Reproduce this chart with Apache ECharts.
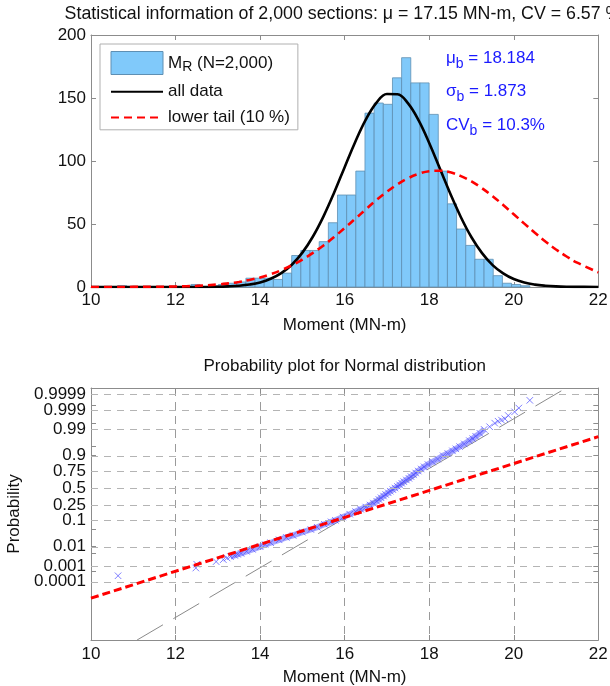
<!DOCTYPE html>
<html><head><meta charset="utf-8">
<script src="https://cdn.jsdelivr.net/npm/echarts@6/dist/echarts.min.js"></script>
<style>html,body{margin:0;padding:0;background:#fff}#c{width:610px;height:686px}</style>
</head><body><div id="c"></div>
<script>
// ---------------- data ----------------
const binStart = 10.63;
const binWidth = 0.2167;
const binCounts = [1,0,0,0,0,0,0,0,2,0,1,2,3,4,7,7,7,6,11,25,29,29,36,51,73,73,92,138,146,145,166,182,162,162,137,92,66,46,33,22,22,9,3,2,1];

const curveX = [10,10.5,11,11.5,12,12.5,13,13.25,13.5,13.75,14,14.25,14.5,14.75,15,15.25,15.5,15.75,16,16.25,16.5,16.75,17,17.25,17.5,17.75,18,18.25,18.5,18.75,19,19.25,19.5,19.75,20,20.25,20.5,20.75,21,21.25,21.5,22];
const allDataCurve = [0,0,0,0,0,0.02,0.22,0.5,1.0,1.95,3.6,6.5,11,17.7,27.3,40.1,56.1,74.8,95.1,115.1,132.8,146.1,153.2,153.0,145.7,132.2,114.3,94.2,74.0,55.4,39.5,26.9,17.4,10.8,6.3,3.5,1.9,1.0,0.47,0.2,0.1,0];
const lowerTailCurve = [0.01,0.02,0.06,0.16,0.4,0.92,2.0,2.9,4.0,5.6,7.6,10.2,13.3,17.2,21.8,27.1,33.0,39.6,46.8,54.1,61.6,68.9,75.6,81.5,86.3,89.8,91.9,92.3,91.0,88.0,83.9,78.4,72.1,65.1,57.7,50.3,43.0,36.1,29.8,24.2,19.3,11.6];

// probability plot samples (moment, probability)
const sampleMoment = [10.64,12.48,12.50,12.96,13.13,13.22,13.30,13.40,13.47,13.55,13.68,13.82,14.0,14.12,14.25,14.45,14.62,14.78,15.0,15.2,15.35,15.52,15.68,15.78,15.96,16.12,16.26,16.38,16.5,16.6,16.68,16.76,16.81,16.86,16.92,16.97,17.03,17.08,17.14,17.19,17.25,17.3,17.35,17.4,17.46,17.52,17.57,17.63,17.68,17.74,17.81,17.88,17.97,18.08,18.2,18.33,18.44,18.55,18.63,18.72,18.83,18.95,19.03,19.1,19.2,19.3,19.43,19.55,19.63,19.71,19.79,19.87,20.02,20.12,20.38];
const sampleProb = [0.00025,0.00075,0.00125,0.00175,0.00225,0.00275,0.00325,0.00375,0.00425,0.00475,0.006,0.0075,0.01,0.0125,0.015,0.02,0.025,0.03,0.04,0.05,0.06,0.075,0.09,0.1,0.125,0.15,0.175,0.2,0.225,0.25,0.275,0.3,0.325,0.35,0.375,0.4,0.425,0.45,0.475,0.5,0.525,0.55,0.575,0.6,0.625,0.65,0.675,0.7,0.725,0.75,0.775,0.8,0.825,0.85,0.875,0.9,0.915,0.93,0.94,0.95,0.96,0.97,0.975,0.98,0.985,0.99,0.9925,0.995,0.996,0.9965,0.997,0.998,0.99875,0.99925,0.99975];
const tailLineMoment = [10, 22];
const tailLineProb = [0.0000062, 0.9793];
const refLineMoment = [11.09, 21.24];
const refLineScore = [-6.03, 3.97];

const probLabels = [0.0001,0.001,0.01,0.1,0.25,0.5,0.75,0.9,0.99,0.999,0.9999];
const probMarks = [0.0001,0.0005,0.001,0.005,0.01,0.05,0.1,0.25,0.5,0.75,0.9,0.95,0.99,0.995,0.999,0.9995,0.9999];

// ---------------- helpers ----------------
function norminv(p){
  const a=[-3.969683028665376e+01,2.209460984245205e+02,-2.759285104469687e+02,1.383577518672690e+02,-3.066479806614716e+01,2.506628277459239e+00];
  const b=[-5.447609879822406e+01,1.615858368580409e+02,-1.556989798598866e+02,6.680131188771972e+01,-1.328068155288572e+01];
  const c=[-7.784894002430293e-03,-3.223964580411365e-01,-2.400758277161838e+00,-2.549732539343734e+00,4.374664141464968e+00,2.938163982698783e+00];
  const d=[7.784695709041462e-03,3.224671290700398e-01,2.445134137142996e+00,3.754408661907416e+00];
  const pl=0.02425, ph=1-pl; let q,r;
  if(p<pl){q=Math.sqrt(-2*Math.log(p));return (((((c[0]*q+c[1])*q+c[2])*q+c[3])*q+c[4])*q+c[5])/((((d[0]*q+d[1])*q+d[2])*q+d[3])*q+1);}
  if(p<=ph){q=p-0.5;r=q*q;return (((((a[0]*r+a[1])*r+a[2])*r+a[3])*r+a[4])*r+a[5])*q/(((((b[0]*r+b[1])*r+b[2])*r+b[3])*r+b[4])*r+1);}
  q=Math.sqrt(-2*Math.log(1-p));return -(((((c[0]*q+c[1])*q+c[2])*q+c[3])*q+c[4])*q+c[5])/((((d[0]*q+d[1])*q+d[2])*q+d[3])*q+1);
}

const FONT = '"Liberation Sans", Arial, Helvetica, sans-serif';
const AX = '#8c8c8c';
const BLUE_TXT = '#1a1aff';
const histData = binCounts.map((n,i)=>[binStart+i*binWidth, binStart+(i+1)*binWidth, n]).filter(d=>d[2]>0);
const zMin = -6.03, zMax = 3.97;
// labels are split over two overlaid axes so that close neighbours are never auto-hidden
const probLabelsA = probLabels.filter((p,i)=>i%2===0);
const probLabelsB = probLabels.filter((p,i)=>i%2===1);
const probFmt = (v)=>{ const p = probLabels.find(q=>Math.abs(norminv(q)-v)<1e-4); return p===undefined?'':String(p); };

const chart = echarts.init(document.getElementById('c'), null, {renderer:'canvas'});
const frameAxis = (extra) => Object.assign({
  axisLine:{show:true, onZero:false, lineStyle:{color:AX, width:1}},
  axisTick:{show:true, inside:true, length:5, lineStyle:{color:AX}},
  splitLine:{show:false},
  axisLabel:{show:false}
}, extra);
const annRich = {a:{fontSize:17, fontFamily:FONT, fill:BLUE_TXT, lineHeight:26}, s:{fontSize:14, fontFamily:FONT, fill:BLUE_TXT, lineHeight:14, verticalAlign:'bottom'}};
const probLabelStyle = (vals)=>({show:true, fontSize:17, color:'#111', margin:5, fontFamily:FONT,
  showMinLabel:true, showMaxLabel:true, hideOverlap:false,
  customValues: vals.map(norminv), formatter: probFmt});

const option = {
  animation:false,
  textStyle:{fontFamily:FONT},
  grid:[
    {left:91, right:11.7, top:35, height:252, outerBoundsMode:'none', containLabel:false},
    {left:91, right:11.7, top:388, height:252, outerBoundsMode:'none', containLabel:false}
  ],
  xAxis:[
    frameAxis({type:'value', gridIndex:0, min:10, max:22, interval:2, position:'bottom',
      axisLabel:{show:true, fontSize:17, color:'#111', margin:5, fontFamily:FONT},
      name:'Moment (MN-m)', nameLocation:'middle', nameGap:30,
      nameTextStyle:{fontSize:17, color:'#111', fontFamily:FONT}}),
    frameAxis({type:'value', gridIndex:0, min:10, max:22, interval:2, position:'top'}),
    frameAxis({type:'value', gridIndex:1, min:10, max:22, interval:2, position:'bottom',
      axisLabel:{show:true, fontSize:17, color:'#111', margin:6, fontFamily:FONT},
      splitLine:{show:true, lineStyle:{color:'#9a9a9a', type:[8,6], width:1}},
      name:'Moment (MN-m)', nameLocation:'middle', nameGap:29,
      nameTextStyle:{fontSize:17, color:'#111', fontFamily:FONT}}),
    frameAxis({type:'value', gridIndex:1, min:10, max:22, interval:2, position:'top'})
  ],
  yAxis:[
    frameAxis({type:'value', gridIndex:0, min:0, max:200, interval:50, position:'left',
      axisLabel:{show:true, fontSize:17, color:'#111', margin:5, fontFamily:FONT}}),
    frameAxis({type:'value', gridIndex:0, min:0, max:200, interval:50, position:'right'}),
    frameAxis({type:'value', gridIndex:1, min:zMin, max:zMax, position:'left',
      axisTick:{show:true, inside:true, length:5, lineStyle:{color:AX}, customValues: probMarks.map(norminv)},
      axisLabel: probLabelStyle(probLabelsA),
      name:'Probability', nameLocation:'middle', nameGap:66,
      nameTextStyle:{fontSize:17, color:'#111', fontFamily:FONT}}),
    frameAxis({type:'value', gridIndex:1, min:zMin, max:zMax, position:'right',
      axisTick:{show:true, inside:true, length:5, lineStyle:{color:AX}, customValues: probMarks.map(norminv)}}),
    {type:'value', gridIndex:1, min:zMin, max:zMax, position:'left', offset:0,
      axisLine:{show:false, onZero:false}, axisTick:{show:false}, splitLine:{show:false},
      axisLabel: probLabelStyle(probLabelsB)}
  ],
  legend:{
    orient:'vertical', left:100, top:44, padding:[7,8,3,10], itemGap:7.5,
    itemWidth:52, itemHeight:23, borderColor:'#b0b0b0', borderWidth:1, backgroundColor:'#fff',
    selectedMode:false,
    data:[
      {name:'MR', icon:'rect', itemStyle:{color:'#80c9fa', borderColor:'#5e8fb3', borderWidth:1}},
      {name:'all data', itemStyle:{opacity:0}},
      {name:'lower tail (10 %)', itemStyle:{opacity:0}}
    ],
    formatter:(name)=> name==='MR' ? '{m|M}{s|R}{m| (N=2,000)}' : '{m|'+name+'}',
    textStyle:{fontFamily:FONT, fontSize:17, color:'#111',
      rich:{m:{fontSize:17, color:'#111', fontFamily:FONT, lineHeight:23},
            s:{fontSize:14, color:'#111', fontFamily:FONT, lineHeight:14, verticalAlign:'bottom'}}}
  },
  graphic:[
    {type:'text', x:343, y:14, style:{text:'Statistical information of 2,000 sections: μ = 17.15 MN-m, CV = 6.57 %', fontSize:17.8, fontFamily:FONT, fill:'#111', align:'center', verticalAlign:'middle'}},
    {type:'text', x:344.75, y:366, style:{text:'Probability plot for Normal distribution', fontSize:17, fontFamily:FONT, fill:'#111', align:'center', verticalAlign:'middle'}},
    {type:'text', x:446, y:58, style:{text:'{a|μ}{s|b}{a| = 18.184}', align:'left', verticalAlign:'middle', rich:annRich}},
    {type:'text', x:446, y:91.5, style:{text:'{a|σ}{s|b}{a| = 1.873}', align:'left', verticalAlign:'middle', rich:annRich}},
    {type:'text', x:446, y:125, style:{text:'{a|CV}{s|b}{a| = 10.3%}', align:'left', verticalAlign:'middle', rich:annRich}}
  ],
  series:[
    {type:'custom', name:'MR', xAxisIndex:0, yAxisIndex:0, z:1,
      itemStyle:{color:'#80c9fa', borderColor:'#5e8fb3'},
      encode:{x:[0,1], y:2},
      data:histData,
      renderItem:(params, api)=>{
        const a = api.coord([api.value(0), api.value(2)]);
        const b = api.coord([api.value(1), 0]);
        return {type:'rect', shape:{x:a[0], y:a[1], width:b[0]-a[0], height:b[1]-a[1]},
          style:{fill:'#80c9fa', stroke:'#5e8fb3', lineWidth:0.8}};
      }},
    {type:'line', name:'all data', xAxisIndex:0, yAxisIndex:0, z:3, symbol:'none', smooth:0.4,
      lineStyle:{color:'#000', width:2.6}, itemStyle:{color:'#000'},
      data:curveX.map((x,i)=>[x, allDataCurve[i]])},
    {type:'line', name:'lower tail (10 %)', xAxisIndex:0, yAxisIndex:0, z:4, symbol:'none', smooth:0.4,
      lineStyle:{color:'#ff0000', width:2.6, type:[8,5]}, itemStyle:{color:'#ff0000'},
      data:curveX.map((x,i)=>[x, lowerTailCurve[i]])},
    // probability plot
    {type:'line', name:'ref', xAxisIndex:2, yAxisIndex:2, z:2, symbol:'none',
      lineStyle:{color:'#8a8a8a', width:1, type:[30,12]},
      data:refLineMoment.map((x,i)=>[x, refLineScore[i]]),
      markLine:{silent:true, symbol:['none','none'], label:{show:false}, animation:false,
        lineStyle:{color:'#b4b4b4', type:[7,6], width:1},
        data:probLabels.map(p=>({yAxis:norminv(p)}))}},
    {type:'line', name:'band', xAxisIndex:2, yAxisIndex:2, z:3, symbol:'none',
      lineStyle:{color:'rgba(120,120,255,0.65)', width:6},
      data:sampleMoment.map((x,i)=>[x, norminv(sampleProb[i])]).filter((d,i)=>sampleProb[i]>=0.003 && sampleProb[i]<=0.99)},
    {type:'scatter', name:'samples', xAxisIndex:2, yAxisIndex:2, z:4,
      symbol:'path://M0,0L10,10M10,0L0,10', symbolSize:6.5,
      itemStyle:{color:'none', borderColor:'#4d4dff', borderWidth:0.9},
      data:sampleMoment.map((x,i)=>[x, norminv(sampleProb[i])])},
    {type:'line', name:'tailfit', xAxisIndex:2, yAxisIndex:2, z:5, symbol:'none',
      lineStyle:{color:'#ff0000', width:3, type:[8,4]},
      data:tailLineMoment.map((x,i)=>[x, norminv(tailLineProb[i])])}
  ]
};
chart.setOption(option);
</script>
</body></html>
